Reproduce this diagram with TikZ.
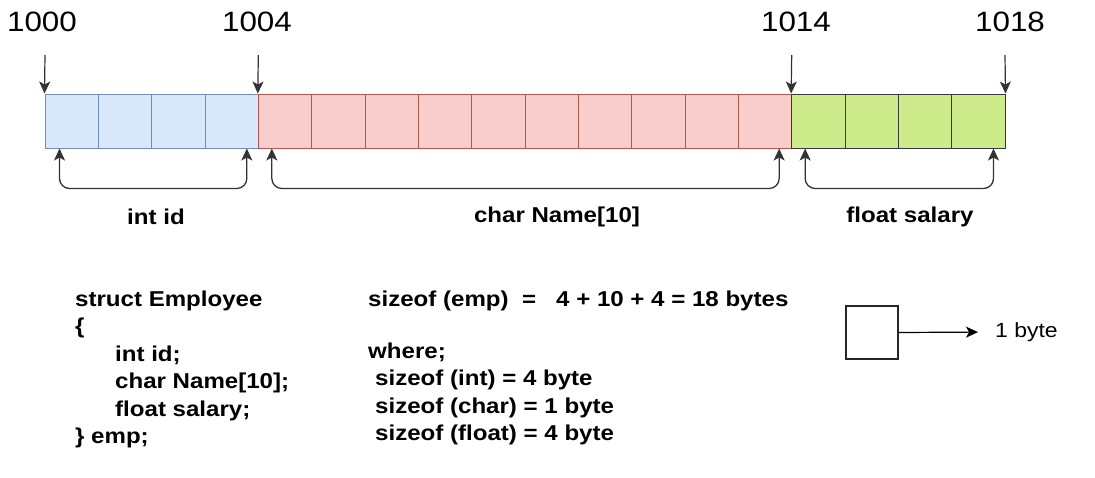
\documentclass[tikz,border=0pt]{standalone}
\usepackage{fontspec}
\setmainfont{Liberation Sans}
\newfontfamily\wfont[FakeStretch=1.12]{Liberation Sans}
\usetikzlibrary{arrows.meta}
\definecolor{bluefill}{HTML}{DAE8FC}
\definecolor{bluedraw}{HTML}{6C8EBF}
\definecolor{redfill}{HTML}{F8CECC}
\definecolor{reddraw}{HTML}{B85450}
\definecolor{greenfill}{HTML}{CDEB8B}
\definecolor{greendraw}{HTML}{36393D}
\definecolor{arrowgray}{HTML}{333333}
\begin{document}
\begin{tikzpicture}[x=1pt,y=-1pt,
  cell/.style={minimum width=53.333pt,minimum height=54pt,inner sep=0pt,line width=1pt},
  bluecell/.style={cell,draw=bluedraw,fill=bluefill},
  redcell/.style={cell,draw=reddraw,fill=redfill},
  greencell/.style={cell,draw=greendraw,fill=greenfill},
  addr/.style={font=\wfont\fontsize{28}{32}\selectfont,inner sep=0pt},
  tip/.tip={Stealth[length=12pt,width=11pt,inset=3pt]},
  downarrow/.style={draw=arrowgray,line width=1.2pt,-tip},
  bracearrow/.style={draw=arrowgray,line width=1.3pt,rounded corners=10pt,tip-tip},
  lbl/.style={font=\wfont\bfseries\fontsize{21.5}{24}\selectfont,inner sep=0pt},
  code/.style={font=\wfont\bfseries\fontsize{21.5}{24}\selectfont,inner sep=0pt,anchor=base west},
]
\useasboundingbox (0,0) rectangle (1095,477);
% cells
\foreach \i in {0,...,3} \node[bluecell] (c\i) at ({45+53.333*\i+26.667},121) {};
\foreach \i in {4,...,13} \node[redcell] (c\i) at ({45+53.333*\i+26.667},121) {};
\foreach \i in {14,...,17} \node[greencell] (c\i) at ({45+53.333*\i+26.667},121) {};
% addresses
\node[addr] (a0) at (42,22) {1000};
\node[addr] (a1) at (257,22) {1004};
\node[addr] (a2) at (796,22) {1014};
\node[addr] (a3) at (1010,22) {1018};
\coordinate (t0) at (45,55);
\coordinate (t1) at (258.3,55);
\coordinate (t2) at (791.7,55);
\coordinate (t3) at (1005,55);
\draw[downarrow] (t0) -- (c0.north west);
\draw[downarrow] (t1) -- (c4.north west);
\draw[downarrow] (t2) -- (c14.north west);
\draw[downarrow] (t3) -- (c17.north east);
% brackets
\draw[bracearrow] ([xshift=15pt]c0.south west) -- ++(0,40) -| ([xshift=-12pt]c3.south east);
\draw[bracearrow] ([xshift=14pt]c4.south west) -- ++(0,40) -| ([xshift=-13pt]c13.south east);
\draw[bracearrow] ([xshift=14pt]c14.south west) -- ++(0,40) -| ([xshift=-12pt]c17.south east);
\node[lbl] (l0) at (156,217) {int id};
\node[lbl] (l1) at (557,217) {char Name[10]};
\node[lbl] (l2) at (910,217) {float salary};
% struct code
\node[code] (s0) at (75,306) {struct Employee};
\node[code] (s1) at (75,333.5) {\{};
\node[code] (s2) at (115,361) {int id;};
\node[code] (s3) at (115,388.5) {char Name[10];};
\node[code] (s4) at (115,416) {float salary;};
\node[code] (s5) at (75,443.5) {\} emp;};
% sizeof text
\node[code] (z0) at (368,306) {sizeof (emp)\ \ =\ \ \ 4 + 10 + 4 = 18 bytes};
\node[code] (z1) at (368,358) {where;};
\node[code] (z2) at (375,385.5) {sizeof (int) = 4 byte};
\node[code] (z3) at (375,413) {sizeof (char) = 1 byte};
\node[code] (z4) at (375,440.5) {sizeof (float) = 4 byte};
% legend
\node[draw=black!85,line width=1.2pt,minimum width=52pt,minimum height=53pt,inner sep=0pt] (leg) at (872,332.5) {};
\node[font=\wfont\fontsize{20.5}{24}\selectfont,anchor=west,inner sep=0pt] (lt) at (995,332) {1 byte};
\draw[draw=black,line width=1.2pt,-tip,shorten >=17pt] (leg.east) -- (lt.west);
\end{tikzpicture}
\end{document}
